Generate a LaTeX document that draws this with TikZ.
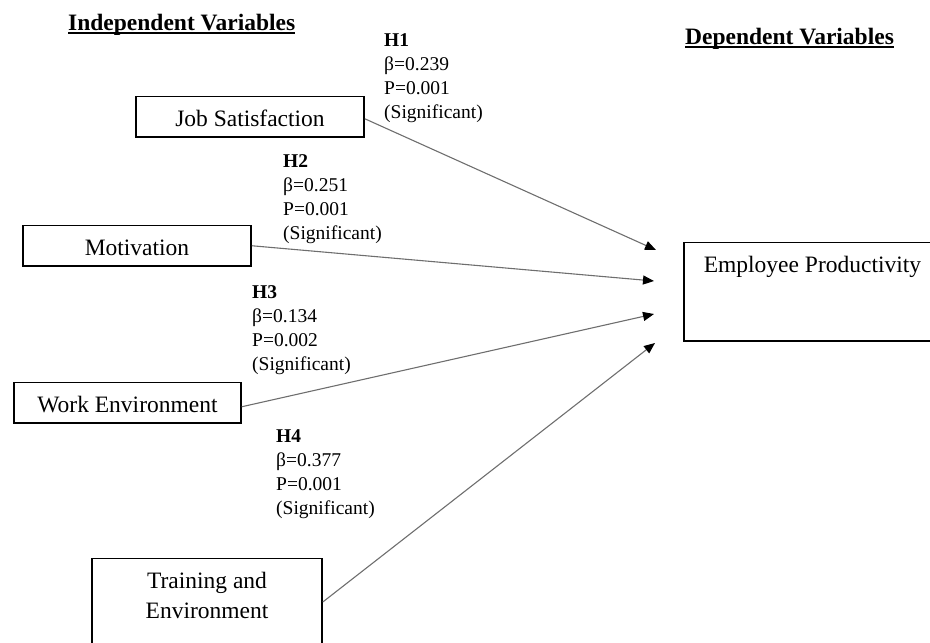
\documentclass[tikz,border=0pt]{standalone}
\usepackage{fontspec}
\setmainfont{Liberation Serif}
\usetikzlibrary{arrows.meta,calc}
\definecolor{linegray}{RGB}{110,110,110}
\newcommand{\hdrul}[1]{\setbox0\hbox{#1}\rlap{\rule[-3.8pt]{\wd0}{1.4pt}}\box0}
\begin{document}
\begin{tikzpicture}[x=1pt,y=-1pt,
  varbox/.style={draw=black, line width=1.6pt, font=\fontsize{23.5}{30}\selectfont,
    text height=18.5pt, text depth=0pt, inner ysep=11pt, inner xsep=0pt, anchor=base},
  lbl/.style={anchor=base west, inner sep=0pt, font=\fontsize{19.5}{24.3}\selectfont},
  hdr/.style={anchor=base west, inner sep=0pt, font=\fontsize{23.5}{28}\selectfont\bfseries},
  conn/.style={draw=linegray, line width=1.1pt, -{Triangle[length=11pt,width=9pt,color=black]}}]
\useasboundingbox (0,0) rectangle (930,643);

% headers
\node[hdr] (iv) at (68,30) {\hdrul{Independent Variables}};
\node[hdr] (dv) at (685,44) {\hdrul{Dependent Variables}};

% boxes
\node[varbox, minimum width=228pt] (js) at (250,126) {Job Satisfaction};
\node[varbox, minimum width=228pt] (mot) at (137,255) {Motivation};
\node[varbox, minimum width=227pt] (we) at (127.5,412) {Work Environment};
\node[varbox, minimum width=230pt, text depth=100pt] (tr) at (207,588)
  {\begin{tabular}[t]{@{}c@{}}Training and\\Environment\end{tabular}};
\node[varbox, anchor=base west, inner xsep=20pt, text depth=58pt] (ep) at (683,272)
  {Employee Productivity};

% labels
\node[lbl] (h1) at (384,46) {\begin{tabular}[t]{@{}l@{}}\textbf{H1}\\β=0.239\\P=0.001\\(Significant)\end{tabular}};
\node[lbl] (h2) at (283,167) {\begin{tabular}[t]{@{}l@{}}\textbf{H2}\\β=0.251\\P=0.001\\(Significant)\end{tabular}};
\node[lbl] (h3) at (252,298) {\begin{tabular}[t]{@{}l@{}}\textbf{H3}\\β=0.134\\P=0.002\\(Significant)\end{tabular}};
\node[lbl] (h4) at (276,442) {\begin{tabular}[t]{@{}l@{}}\textbf{H4}\\β=0.377\\P=0.001\\(Significant)\end{tabular}};

% arrow targets
\coordinate (t1) at (656,250);
\coordinate (t2) at (654,281);
\coordinate (t3) at (654,314);
\coordinate (t4) at (655,343);

\draw[conn] ($(js.east)+(0,2)$) -- (t1);
\draw[conn] (mot.east) -- (t2);
\draw[conn] ($(we.east)+(0,4)$) -- (t3);
\draw[conn] ($(tr.base east)+(0,14)$) -- (t4);
\end{tikzpicture}
\end{document}
